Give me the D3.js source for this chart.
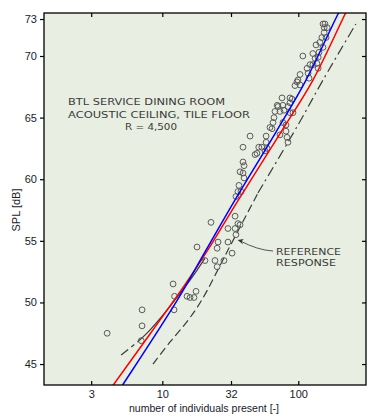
<!DOCTYPE html>
<html><head><meta charset="utf-8">
<script src="https://cdn.jsdelivr.net/npm/d3@7"></script>
<style>body{margin:0;background:#fff}svg{display:block}</style>
</head><body><svg id="c" width="378" height="420"></svg>
<script>
// ---- data ----
const xTicks = [3, 10, 32, 100];
const yTicks = [45, 50, 55, 60, 65, 70, 73];

const pointN = [3.93,7.1,7.1,7.0,12.0,12.3,12.2,15.2,16.0,17.1,17.7,18.0,22.8,24.4,25.3,25.7,25.3,28.4,30.4,32.6,30.4,34.3,34.3,34.8,36.0,37.3,37.9,20.6,
  44.2,39.2,39.2,39.9,37.3,39.2,39.9,36.6,36.0,34.8,49.7,51.2,53.9,58.0,58.9,58.0,48.1,56.9,
  64.1,65.2,66.3,67.4,73.3,70.0,77.1,78.5,75.9,86.9,81.2,82.6,81.2,84.0,77.1,73.3,89.9,86.9,84.0,71.0,86.9,91.4,61.9,
  108,103,99.5,97.8,94.6,103,116,120,118,122,128,128,133,137,140,135,144,142,140,152,157,155,155,149,163,160,152];
const pointSPL = [47.5,49.4,48.1,46.9,51.5,50.5,49.4,50.5,50.4,50.4,50.9,54.5,56.5,53.4,52.9,54.9,54.4,53.4,54.9,54.0,56.0,57.0,56.0,55.5,56.4,56.3,59.0,53.4,
  63.5,62.6,61.4,61.1,60.6,60.5,60.1,59.5,59.0,58.6,62.1,62.6,62.6,63.5,62.5,63.0,62.0,62.3,
  64.1,64.6,65.0,65.5,65.5,66.0,66.0,65.6,66.6,66.6,63.9,63.4,64.4,63.0,64.6,63.6,66.5,66.2,65.9,65.9,65.4,65.4,64.2,
  70.0,68.5,68.05,67.9,67.6,67.65,69.0,68.2,68.6,69.3,69.3,70.2,69.8,69.4,69.0,70.9,71.1,70.3,69.9,72.6,72.6,72.3,71.9,71.5,72.3,71.5,70.7];

const blueN   = [4.57, 5.11, 12.89, 20.96, 34.2, 68.5, 114, 195.9, 232];
const blueSPL = [42.48, 43.30, 50.19, 54.25, 58.31, 63.83, 68.05, 73.41, 74.95];
const redN    = [3.86, 4.36, 8.12, 14.94, 21.57, 36.2, 74.6, 128.2, 223, 261];
const redSPL  = [42.48, 43.30, 47.44, 51.57, 54.25, 58.31, 63.83, 68.05, 73.49, 74.95];

const refN    = [8.54, 11.4, 15.5, 19.5, 30.4, 50.5, 99.5, 152, 265];
const refSPL  = [45.0, 46.79, 48.57, 50.19, 54.25, 58.88, 64.40, 68.05, 72.6];
const fitN    = [4.98, 7.68, 16.0, 20.6];
const fitSPL  = [45.73, 47.49, 51.82, 53.6];

const titleLines = ["BTL  SERVICE  DINING  ROOM", "ACOUSTIC CEILING, TILE FLOOR", "R = 4,500"];
const refLabel = ["REFERENCE", "RESPONSE"];

// ---- layout ----
const L = 44, R = 366, T = 13, B = 385;
const svg = d3.select("#c");
const x = d3.scaleLog().domain([1.349, 314.7]).range([L, R]);
const y = d3.scaleLinear().domain([43.3, 73.49]).range([B, T]);

svg.append("rect").attr("x", L).attr("y", T).attr("width", R - L).attr("height", B - T)
  .attr("fill", "#e8eee2");

svg.append("defs").append("clipPath").attr("id", "clip")
  .append("rect").attr("x", L).attr("y", T).attr("width", R - L).attr("height", B - T);

const g = svg.append("g").attr("clip-path", "url(#clip)");
const line = d3.line().x(d => x(d[0])).y(d => y(d[1])).curve(d3.curveCatmullRom.alpha(0.5));
const zip = (a, b) => a.map((v, i) => [v, b[i]]);

// scanned fit curve (dash-dot, upper-left)
g.append("path").attr("d", line(zip(fitN, fitSPL)))
  .attr("fill", "none").attr("stroke", "#3a3a3a").attr("stroke-width", 1.2)
  .attr("stroke-dasharray", "9,4,4,4,400");

// reference response (dashed lower, dash-dot upper)
const ref = zip(refN, refSPL);
g.append("path").attr("d", line(ref.slice(0, 6)))
  .attr("fill", "none").attr("stroke", "#3a3a3a").attr("stroke-width", 1.2)
  .attr("stroke-dasharray", "8,4");
g.append("path").attr("d", line(ref.slice(5)))
  .attr("fill", "none").attr("stroke", "#3a3a3a").attr("stroke-width", 1.2)
  .attr("stroke-dasharray", "10,4,2,4");

// data circles
g.selectAll("circle.pt").data(zip(pointN, pointSPL)).join("circle")
  .attr("class", "pt")
  .attr("cx", d => x(d[0])).attr("cy", d => y(d[1])).attr("r", 2.9)
  .attr("fill", "none").attr("stroke", "#5a5a5a").attr("stroke-width", 1);

// model lines
g.append("path").attr("d", line(zip(redN, redSPL)))
  .attr("fill", "none").attr("stroke", "#ff0000").attr("stroke-width", 1.5);
g.append("path").attr("d", line(zip(blueN, blueSPL)))
  .attr("fill", "none").attr("stroke", "#0000ff").attr("stroke-width", 1.5);

// annotation text
const txt = svg.append("g").attr("font-family", "DejaVu Sans, sans-serif")
  .attr("font-size", 9).attr("fill", "#3a3a3a");
const titlePos = [[68, 104.5, 157], [68, 118, 182], [125, 129.5, 52]];
titleLines.forEach((s, i) => {
  txt.append("text").attr("x", titlePos[i][0]).attr("y", titlePos[i][1])
    .attr("textLength", titlePos[i][2]).attr("lengthAdjust", "spacingAndGlyphs").text(s);
});
const refPos = [[276, 254.5, 65], [276, 266, 60]];
refLabel.forEach((s, i) => {
  txt.append("text").attr("x", refPos[i][0]).attr("y", refPos[i][1])
    .attr("textLength", refPos[i][2]).attr("lengthAdjust", "spacingAndGlyphs").text(s);
});

// arrow
const a0 = [x(65.2), y(54.17)], a1 = [x(35.8), y(55.06)];
svg.append("path")
  .attr("d", `M${a0[0]},${a0[1]} Q${(a0[0]+a1[0])/2+2},${a0[1]-1} ${a1[0]+2},${a1[1]+0.5}`)
  .attr("fill", "none").attr("stroke", "#444").attr("stroke-width", 0.9);
svg.append("path")
  .attr("d", `M${a1[0]},${a1[1]} l6,-1 l-2,2.5 l1.5,3 z`)
  .attr("fill", "#333");

// axes
const axL = svg.append("g").attr("transform", `translate(${L},0)`)
  .call(d3.axisLeft(y).tickValues(yTicks).tickSize(4).tickPadding(3));
const axB = svg.append("g").attr("transform", `translate(0,${B})`)
  .call(d3.axisBottom(x).tickValues(xTicks).tickFormat(d3.format("d")).tickSizeInner(-4).tickSizeOuter(0).tickPadding(5));
const axR = svg.append("g").attr("transform", `translate(${R},0)`)
  .call(d3.axisRight(y).tickValues(yTicks).tickSize(-4).tickFormat(""));
const axT = svg.append("g").attr("transform", `translate(0,${T})`)
  .call(d3.axisTop(x).tickValues(xTicks).tickSize(-4).tickFormat(""));
[axL, axB, axR, axT].forEach(a => {
  a.select(".domain").remove();
  a.selectAll("line").attr("stroke", "#000").attr("stroke-width", 1.2);
  a.selectAll("text").attr("font-family", "Liberation Sans, Arial, sans-serif")
    .attr("font-size", 11).attr("fill", "#1a1a2a");
});

svg.append("rect").attr("x", L).attr("y", T).attr("width", R - L).attr("height", B - T)
  .attr("fill", "none").attr("stroke", "#000").attr("stroke-width", 1.3);

// axis titles
svg.append("text").attr("x", (L + R) / 2 - 1).attr("y", 412)
  .attr("text-anchor", "middle").attr("font-family", "Liberation Sans, Arial, sans-serif")
  .attr("font-size", 11).attr("fill", "#1a1a2a")
  .attr("textLength", 150).attr("lengthAdjust", "spacingAndGlyphs")
  .text("number of individuals present  [-]");
svg.append("text").attr("transform", "translate(20,210) rotate(-90)")
  .attr("text-anchor", "middle").attr("font-family", "Liberation Sans, Arial, sans-serif")
  .attr("font-size", 11).attr("fill", "#1a1a2a")
  .text("SPL  [dB]");
</script>
</body></html>
